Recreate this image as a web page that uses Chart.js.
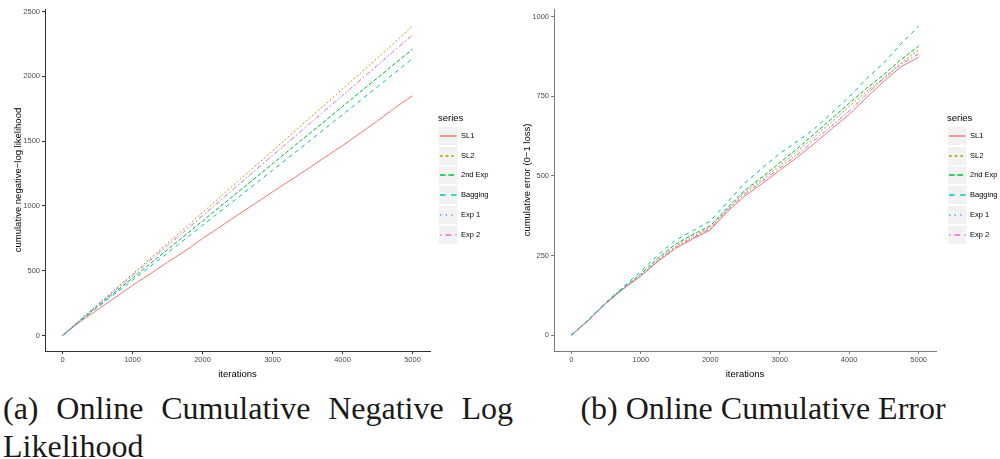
<!DOCTYPE html>
<html>
<head>
<meta charset="utf-8">
<script src="https://cdn.jsdelivr.net/npm/chart.js@4.4.1/dist/chart.umd.min.js"></script>
<style>
  body { margin: 0; background: #fff; width: 1000px; height: 459px; overflow: hidden; position: relative; }
  canvas { position: absolute; top: 0; }
  .cap { position: absolute; font-family: "Liberation Serif", serif; font-size: 32px; line-height: 38px; color: #1a1a1a; }
</style>
</head>
<body>
<canvas id="nll" width="500" height="380" style="left:0"></canvas>
<canvas id="err" width="500" height="380" style="left:500px"></canvas>
<div class="cap" style="left:3px; top:389px; width:510px; text-align:justify;">(a) Online Cumulative Negative Log Likelihood</div>
<div class="cap" style="left:563px; top:389px; width:400px; text-align:center;">(b) Online Cumulative Error</div>
<script>
// iterations sampled every 250
const iterations = [0, 250, 500, 750, 1000, 1250, 1500, 1750, 2000, 2250, 2500, 2750, 3000, 3250, 3500, 3750, 4000, 4250, 4500, 4750, 5000];
const seriesNames = ['SL1', 'SL2', '2nd Exp', 'Bagging', 'Exp 1', 'Exp 2'];
const xTicks = [0, 1000, 2000, 3000, 4000, 5000];

// (a) cumulative negative-log likelihood
const nllSL1    = [0, 106, 198, 292, 386, 474, 566, 652, 748, 838, 929, 1018, 1108, 1196, 1284, 1376, 1465, 1561, 1656, 1758, 1850];
const nllSL2    = [0, 119, 238, 357, 474, 593, 711, 830, 948, 1068, 1188, 1306, 1425, 1544, 1664, 1782, 1902, 2022, 2142, 2264, 2388];
const nll2ndExp = [0, 113, 225, 334, 443, 553, 663, 773, 883, 994, 1104, 1214, 1325, 1436, 1546, 1656, 1768, 1878, 1988, 2099, 2210];
const nllBag    = [0, 110, 216, 322, 426, 531, 637, 743, 850, 956, 1062, 1168, 1275, 1382, 1489, 1597, 1704, 1812, 1920, 2028, 2138];
const nllExp1   = [0, 117, 232, 347, 462, 578, 693, 808, 923, 1039, 1156, 1272, 1388, 1504, 1620, 1736, 1852, 1969, 2085, 2202, 2318];
const nllExp2   = [0, 117, 233, 348, 463, 578, 694, 808, 924, 1040, 1157, 1272, 1389, 1504, 1621, 1737, 1853, 1970, 2086, 2203, 2320];
const nllTicks  = [0, 500, 1000, 1500, 2000, 2500];

// (b) cumulative error (0-1 loss)
const errSL1    = [0, 47, 100, 145, 185, 232, 272, 302, 330, 388, 437, 476, 517, 558, 602, 648, 693, 746, 797, 843, 873];
const errSL2    = [0, 47, 101, 146, 188, 236, 279, 310, 338, 396, 450, 490, 532, 577, 622, 670, 718, 765, 808, 855, 896];
const err2ndExp = [0, 48, 102, 149, 192, 242, 285, 316, 343, 400, 455, 497, 541, 585, 632, 680, 728, 775, 818, 866, 907];
const errBag    = [0, 49, 103, 152, 200, 252, 298, 328, 358, 418, 478, 525, 570, 608, 648, 698, 748, 805, 855, 915, 970];
const errExp1   = [0, 47, 100, 146, 186, 234, 276, 306, 335, 393, 444, 484, 525, 567, 613, 658, 704, 757, 806, 851, 884];
const errExp2   = [0, 47, 100, 146, 186, 234, 275, 305, 334, 392, 443, 483, 524, 566, 612, 657, 703, 756, 806, 851, 883];
const errTicks  = [0, 250, 500, 750, 1000];

const seriesColors = ['#F8766D', '#B79F00', '#00BA38', '#00BFC4', '#619CFF', '#F564E3'];
const seriesDash = [[], [2, 2], [4, 2], [4, 4], [1, 3], [1, 3, 4, 3]];

const ggLegend = {
  id: 'ggLegend',
  afterDraw(chart, args, opts) {
    const ctx = chart.ctx;
    ctx.save();
    ctx.textBaseline = 'middle';
    ctx.fillStyle = '#000';
    ctx.font = '9.5px "Liberation Sans"';
    ctx.fillText('series', opts.x, 118);
    chart.data.datasets.forEach((ds, i) => {
      const top = Math.round(127 + i * 19.7);
      ctx.fillStyle = '#f2f2f2';
      ctx.fillRect(opts.x + 1, top, 18.5, 18);
      ctx.strokeStyle = ds.borderColor;
      ctx.lineWidth = 1.5;
      ctx.setLineDash(ds.borderDash.map(d => d * 1.4));
      ctx.beginPath();
      ctx.moveTo(opts.x + 2, top + 9);
      ctx.lineTo(opts.x + 18.5, top + 9);
      ctx.stroke();
      ctx.setLineDash([]);
      ctx.fillStyle = '#000';
      ctx.font = '7.5px "Liberation Sans"';
      ctx.fillText(ds.label, opts.x + 23, top + 9);
    });
    ctx.restore();
  }
};

function makeChart(id, series, yMin, yMax, yTicks, yTitle, g) {
  const datasets = series.map((vals, i) => ({
    label: seriesNames[i],
    data: iterations.map((x, j) => ({ x: x, y: vals[j] })),
    borderColor: seriesColors[i],
    borderDash: seriesDash[i],
    borderWidth: 1,
    pointRadius: 0,
    fill: false,
    tension: 0,
    order: series.length - i
  }));
  const tickFont = { family: 'Liberation Sans', size: 7.5 };
  const titleFont = { family: 'Liberation Sans', size: 9.5 };
  return new Chart(document.getElementById(id), {
    type: 'line',
    data: { datasets: datasets },
    options: {
      responsive: false,
      animation: false,
      devicePixelRatio: 1,
      layout: { padding: { left: 0, top: 9, right: g.right, bottom: 0 } },
      plugins: {
        legend: { display: false },
        tooltip: { enabled: false },
        ggLegend: { x: g.legendX }
      },
      scales: {
        x: {
          type: 'linear', min: -250, max: 5250,
          afterBuildTicks: s => { s.ticks = xTicks.map(v => ({ value: v })); },
          afterFit: s => { s.height = 29; },
          grid: { display: true, drawOnChartArea: false, drawTicks: true, tickLength: 3, tickColor: g.axis, tickWidth: 1 },
          border: { display: true, color: g.axis, width: 1 },
          ticks: { color: '#4d4d4d', font: tickFont, padding: 1, maxRotation: 0, autoSkip: false, callback: v => String(v) },
          title: { display: true, text: 'iterations', color: '#000', font: titleFont, padding: { top: 4.3, bottom: 0 } }
        },
        y: {
          type: 'linear', min: yMin, max: yMax,
          afterBuildTicks: s => { s.ticks = yTicks.map(v => ({ value: v })); },
          afterFit: s => { s.width = g.yw; },
          grid: { display: true, drawOnChartArea: false, drawTicks: true, tickLength: 3, tickColor: g.axis, tickWidth: 1 },
          border: { display: true, color: g.axis, width: 1 },
          ticks: { color: '#4d4d4d', font: tickFont, padding: 2, autoSkip: false, callback: v => String(v) },
          title: { display: true, text: yTitle, color: '#000', font: titleFont, padding: { top: g.titlePad, bottom: 0 } }
        }
      }
    },
    plugins: [ggLegend]
  });
}

makeChart('nll', [nllSL1, nllSL2, nll2ndExp, nllBag, nllExp1, nllExp2], -120, 2520, nllTicks,
  'cumulative negative\u2212log likelihood', { right: 70, yw: 45, titlePad: 12.3, legendX: 438, axis: '#333333' });
makeChart('err', [errSL1, errSL2, err2ndExp, errBag, errExp1, errExp2], -50, 1024, errTicks,
  'cumulative error (0\u22121 loss)', { right: 64, yw: 54, titlePad: 21.3, legendX: 447, axis: '#7a7a7a' });
</script>
</body>
</html>
